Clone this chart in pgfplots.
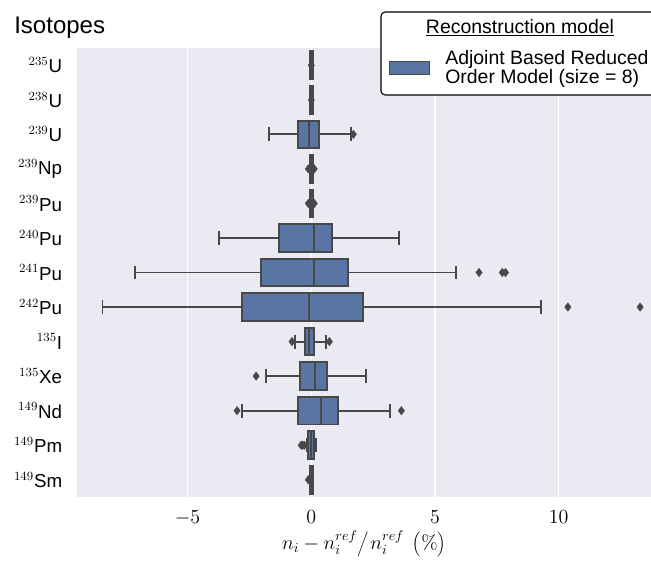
\documentclass[border=0pt]{standalone}
\usepackage{pgfplots}
\pgfplotsset{compat=1.18}
\usepgfplotslibrary{statistics}
\usepackage[no-math]{fontspec}
\setmainfont{Liberation Sans}
\definecolor{boxblue}{RGB}{88,117,164}
\definecolor{edgegray}{RGB}{72,72,72}
\definecolor{bggray}{RGB}{234,234,242}
\newcommand{\bp}[7]{%
\addplot[mark=diamond*, mark size=3.1pt, mark options={fill=edgegray, draw=edgegray, line width=0.2pt, solid},
  boxplot prepared={draw position=#1, lower whisker=#2, lower quartile=#3, median=#4, upper quartile=#5, upper whisker=#6}] coordinates {#7};}
\newcommand{\strt}{\rule[-5.5pt]{0pt}{18pt}}
\begin{document}
\begin{tikzpicture}
\begin{axis}[
  at={(55.44pt,-357.84pt)}, anchor=south west,
  scale only axis, width=413.28pt, height=323.28pt,
  xmin=-9.47, xmax=13.73,
  ymin=0.5, ymax=13.5, y dir=reverse,
  axis background/.style={fill=bggray},
  axis line style={draw=none},
  major tick length=0pt,
  tick style={draw=none},
  xtick={-5,0,5,10},
  xmajorgrids, ymajorgrids=false,
  grid style={white, line width=1.1pt},
  ytick={1,...,13},
  yticklabels={{$^{235}$U},{$^{238}$U},{$^{239}$U},{$^{239}$Np},{$^{239}$Pu},{$^{240}$Pu},{$^{241}$Pu},{$^{242}$Pu},{$^{135}$I},{$^{135}$Xe},{$^{149}$Nd},{$^{149}$Pm},{$^{149}$Sm}},
  yticklabel style={font=\fontsize{13.5}{16}\selectfont, anchor=east, inner sep=0pt, xshift=-10.5pt},
  xticklabel style={font=\fontsize{14}{17}\selectfont, anchor=north, inner sep=0pt, yshift=-9.4pt},
  xlabel={$n_i - n_i^{ref}{\left/\strt\right.}n_i^{ref}\ \left(\strt\%\right)$},
  xlabel style={font=\fontsize{14}{17}\selectfont, at={(axis description cs:0.5,0)}, anchor=north, inner sep=0pt, yshift=-24pt},
  boxplot/draw direction=x,
  boxplot/box extend=0.8,
  boxplot/whisker extend=0.4,
  boxplot/every box/.style={fill=boxblue, draw=edgegray, line width=1.4pt},
  boxplot/every whisker/.style={draw=edgegray, line width=1.4pt},
  boxplot/every median/.style={draw=edgegray, line width=1.4pt},
  clip=false,
]
\bp{1}{0}{-0.05}{0}{0.05}{0}{(0,0)}
\bp{2}{0}{-0.05}{0}{0.05}{0}{(0,0)}
\bp{3}{-1.70}{-0.53}{-0.11}{0.32}{1.59}{(1.70,1.70)}
\bp{4}{0}{-0.05}{0}{0.05}{0}{(-0.12,-0.12) (-0.05,-0.05) (0,0) (0.05,0.05) (0.12,0.12)}
\bp{5}{0}{-0.05}{0}{0.05}{0}{(-0.12,-0.12) (-0.05,-0.05) (0,0) (0.05,0.05) (0.12,0.12)}
\bp{6}{-3.72}{-1.32}{0.11}{0.84}{3.53}{}
\bp{7}{-7.14}{-2.04}{0.11}{1.48}{5.83}{(6.78,6.78) (7.72,7.72) (7.85,7.85)}
\bp{8}{-8.44}{-2.81}{-0.08}{2.10}{9.29}{(10.37,10.37) (13.29,13.29)}
\bp{9}{-0.67}{-0.26}{-0.08}{0.12}{0.59}{(-0.78,-0.78) (0.73,0.73)}
\bp{10}{-1.84}{-0.46}{0.14}{0.65}{2.21}{(-2.23,-2.23)}
\bp{11}{-2.80}{-0.53}{0.40}{1.09}{3.19}{(-3.00,-3.00) (3.64,3.64)}
\bp{12}{-0.18}{-0.12}{0}{0.09}{0.20}{(-0.41,-0.41) (-0.35,-0.35) (-0.28,-0.28)}
\bp{13}{0}{-0.04}{0.02}{0.05}{0.02}{(-0.12,-0.12)}
\end{axis}
\begin{scope}[x=0.72pt, y=-0.72pt]
\node[anchor=base west, inner sep=0pt, font=\fontsize{17.3}{20}\selectfont] at (14,33) {Isotopes};
\draw[rounded corners=3pt, fill=white, draw=black, line width=0.8pt] (381,12) rectangle (660,95);
\node[anchor=base, inner sep=0pt, font=\fontsize{14}{17}\selectfont] at (520,33) {\underline{Reconstruction model}};
\draw[fill=boxblue, draw=edgegray, line width=0.7pt] (389,61) rectangle (429,74);
\node[anchor=base west, inner sep=0pt, font=\fontsize{14}{17}\selectfont] at (445,64) {Adjoint Based Reduced};
\node[anchor=base west, inner sep=0pt, font=\fontsize{14}{17}\selectfont] at (445,83.5) {Order Model (size = 8)};
\pgfresetboundingbox
\path[use as bounding box] (0,0) rectangle (651,563);
\end{scope}
\end{tikzpicture}
\end{document}
